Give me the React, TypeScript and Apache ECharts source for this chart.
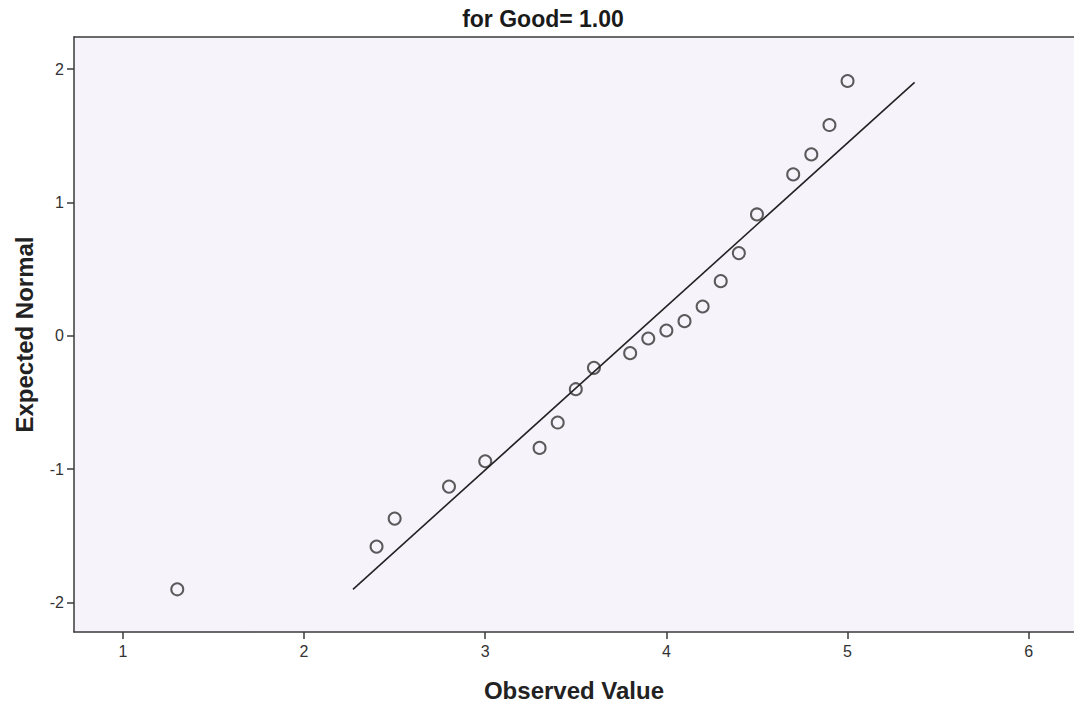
import React, { useEffect, useRef } from "react";
import * as echarts from "echarts";

const observed = [1.3, 2.4, 2.5, 2.8, 3.0, 3.3, 3.4, 3.5, 3.6, 3.8, 3.9, 4.0, 4.1, 4.2, 4.3, 4.4, 4.5, 4.7, 4.8, 4.9, 5.0];
const expected = [-1.9, -1.58, -1.37, -1.13, -0.94, -0.84, -0.65, -0.4, -0.24, -0.13, -0.02, 0.04, 0.11, 0.22, 0.41, 0.62, 0.91, 1.21, 1.36, 1.58, 1.91];
const refLineX = [2.27, 5.37];
const refLineY = [-1.9, 1.9];
const xTicks = [1, 2, 3, 4, 5, 6];
const yTicks = [-2, -1, 0, 1, 2];
const titleText = "for Good= 1.00";
const xName = "Observed Value";
const yName = "Expected Normal";

export default function App() {
  const ref = useRef<HTMLDivElement>(null);
  useEffect(() => {
    if (!ref.current) return;
    const chart = echarts.init(ref.current, null, { renderer: "svg" });
    const axisColor = "#3a3a3a";
    const font = "Liberation Sans, Arial, sans-serif";
    const xMin = 0.73;
    const xMax = 6.25;
    chart.setOption({
      animation: false,
      backgroundColor: "#ffffff",
      title: {
        text: titleText,
        left: 538,
        textAlign: "center",
        top: 2,
        textStyle: { fontFamily: font, fontSize: 23, fontWeight: "bold", color: "#1a1a1a" },
      },
      grid: {
        left: 74,
        top: 37,
        right: 0,
        bottom: 77,
        show: true,
        backgroundColor: "#f7f3fb",
        borderWidth: 0,
      },
      xAxis: [
        {
          type: "value",
          min: xMin,
          max: xMax,
          name: xName,
          nameLocation: "middle",
          nameGap: 46,
          nameTextStyle: { fontFamily: font, fontSize: 24, fontWeight: "bold", color: "#222" },
          axisLine: { show: true, onZero: false, lineStyle: { color: axisColor, width: 1.5 } },
          axisTick: { show: true, inside: false, length: 7, customValues: xTicks, lineStyle: { color: axisColor, width: 1.5 } },
          axisLabel: { customValues: xTicks, fontFamily: font, fontSize: 16, color: "#333", margin: 11 },
          splitLine: { show: false },
        },
        {
          type: "value",
          position: "top",
          min: xMin,
          max: xMax,
          axisLine: { show: true, onZero: false, lineStyle: { color: axisColor, width: 1.5 } },
          axisTick: { show: false },
          axisLabel: { show: false },
          splitLine: { show: false },
        },
      ],
      yAxis: {
        type: "value",
        min: -2.22,
        max: 2.24,
        name: yName,
        nameLocation: "middle",
        nameGap: 38,
        nameRotate: 90,
        nameTextStyle: { fontFamily: font, fontSize: 24, fontWeight: "bold", color: "#222" },
        axisLine: { show: true, onZero: false, lineStyle: { color: axisColor, width: 1.5 } },
        axisTick: { show: true, inside: false, length: 7, customValues: yTicks, lineStyle: { color: axisColor, width: 1.5 } },
        axisLabel: { customValues: yTicks, fontFamily: font, fontSize: 16, color: "#333", margin: 10 },
        splitLine: { show: false },
      },
      series: [
        {
          type: "line",
          xAxisIndex: 0,
          data: refLineX.map((x, i) => [x, refLineY[i]]),
          symbol: "none",
          lineStyle: { color: "#222", width: 1.6 },
          silent: true,
        },
        {
          type: "scatter",
          xAxisIndex: 0,
          data: observed.map((x, i) => [x, expected[i]]),
          symbol: "circle",
          symbolSize: 12,
          itemStyle: { color: "rgba(0,0,0,0)", borderColor: "#333", borderWidth: 2 },
        },
      ],
    });
    return () => chart.dispose();
  }, []);
  return <div ref={ref} style={{ position: "absolute", left: 0, top: 0, width: 1074, height: 709 }} />;
}
